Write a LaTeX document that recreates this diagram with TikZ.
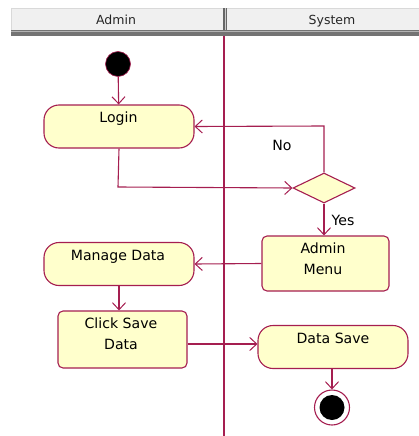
\documentclass[tikz,border=0pt]{standalone}
\usepackage{fontspec}
\setmainfont{DejaVu Sans}
\usetikzlibrary{shapes.geometric,arrows.meta}
\definecolor{edgec}{RGB}{165,30,80}
\definecolor{fillc}{RGB}{255,255,204}
\definecolor{headc}{RGB}{240,240,240}
\begin{document}
\begin{tikzpicture}[x=1pt,y=-1pt,
  act/.style={draw=edgec, fill=fillc, line width=1.1pt, rounded corners=15pt, minimum width=150pt, minimum height=43pt, inner sep=0pt},
  rbox/.style={draw=edgec, fill=fillc, line width=1.1pt, rounded corners=5pt, inner sep=0pt},
  flow/.style={draw=edgec, line width=1.1pt, -{Straight Barb[length=7pt,width=13pt,line width=1pt]}},
  txt/.style={font=\fontsize{14.1}{21}\selectfont, align=center, inner sep=0pt, anchor=base},
  htxt/.style={font=\fontsize{12.5}{15}\selectfont, inner sep=0pt, anchor=base, text=black!85}
]
\useasboundingbox (0,0) rectangle (419,436);
% header
\fill[headc] (11,8) rectangle (419,30);
\draw[black!15] (11,8.5) -- (419,8.5);
\draw[black!15] (11.5,8) -- (11.5,30);
\fill[black!55] (11,30) rectangle (419,36);
\draw[black!30, line width=1pt] (11,32) -- (419,32);
\fill[black!60] (223,8) rectangle (227,30);
\draw[black!20, line width=1pt] (225.5,8) -- (225.5,30);
\node[htxt] (hadmin) at (116,25) {Admin};
\node[htxt] (hsystem) at (332,25) {System};
% lane line
\draw[edgec, line width=1.2pt] (224,36) -- (224,436);
% nodes
\node[circle, fill=black, draw=edgec, line width=0.6pt, minimum size=25pt, inner sep=0pt] (start) at (118,64) {};
\node[act] (login) at (119,126.5) {};
\node[txt] (tlogin) at (118.5,122) {Login};
\node[diamond, draw=edgec, fill=fillc, line width=1.1pt, minimum width=62pt, minimum height=30pt, aspect=2, inner sep=0pt] (dec) at (324,188) {};
\node[rbox, minimum width=127pt, minimum height=55pt] (admin) at (325.5,263.5) {};
\node[txt] (tadmin) at (323,274) {Admin\\Menu};
\node[act] (manage) at (119,264) {};
\node[txt] (tmanage) at (118,260) {Manage Data};
\node[rbox, minimum width=129pt, minimum height=57pt] (click) at (122.5,339.5) {};
\node[txt] (tclick) at (121,349) {Click Save\\Data};
\node[act] (dsave) at (333,347) {};
\node[txt] (tdsave) at (333,343) {Data Save};
\node[circle, draw=edgec, fill=white, line width=1.1pt, minimum size=35pt, inner sep=0pt] (endo) at (332,407.5) {};
\node[circle, fill=black, minimum size=25pt, inner sep=0pt] (endi) at (endo) {};
% labels
\node[txt] (lno) at (282,150) {No};
\node[txt] (lyes) at (343,225) {Yes};
% connectors
\draw[flow] (start) -- (login);
\draw[flow] (login.south) -- (118,187) -- (dec.west);
\draw[flow] (dec.north) -- (324,126) -- (login.east);
\draw[flow] (dec.south) -- (admin.north -| dec.south);
\draw[flow] (admin.west) -- (manage.east);
\draw[flow] (manage.south -| 119,0) -- (click.north -| 119,0);
\draw[flow] ([yshift=-4.5pt]click.east) -- ([yshift=-4.5pt]click.east -| dsave.west);
\draw[flow] (dsave.south -| 332,0) -- (endo.north);
\end{tikzpicture}
\end{document}
